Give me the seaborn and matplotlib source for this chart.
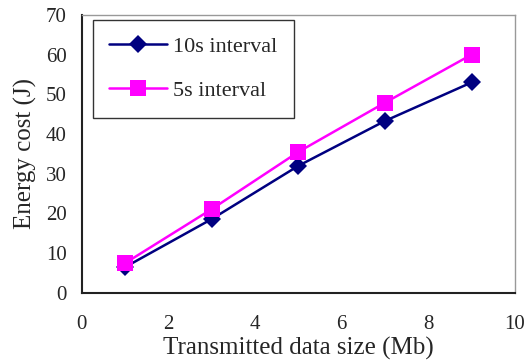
import pandas as pd
import matplotlib.pyplot as plt
import seaborn as sns

sizes = [1, 3, 5, 7, 9]
cost_10s = [6.5, 18.6, 32.0, 43.3, 53.0]
cost_5s = [7.5, 21.1, 35.5, 47.9, 60.0]
labels = ["10s interval", "5s interval"]

df = pd.DataFrame({
    "size": sizes * 2,
    "cost": cost_10s + cost_5s,
    "series": [labels[0]] * 5 + [labels[1]] * 5,
})

sns.set_style("white")
plt.rcParams["font.family"] = ["Liberation Serif"]

fig = plt.figure(figsize=(5.25, 3.62), dpi=100)
ax = fig.add_axes([0.156, 0.191, 0.825, 0.768])

sns.lineplot(
    data=df, x="size", y="cost", hue="series", style="series",
    palette={labels[0]: "#000080", labels[1]: "#FF00FF"},
    markers={labels[0]: "D", labels[1]: "s"},
    dashes=False, markersize=10, linewidth=1.8, markeredgewidth=0,
    ax=ax,
)
for line in ax.lines:
    if line.get_marker() == "s":
        line.set_markersize(11)
    else:
        line.set_markersize(9)

ax.set_xlim(0, 10)
ax.set_ylim(0, 70)
ax.set_xticks(range(0, 11, 2))
ax.set_yticks(range(0, 71, 10))
ax.tick_params(axis="both", direction="in", length=4, labelsize=15)
ax.tick_params(axis="x", pad=16)
ax.tick_params(axis="y", pad=11)
ax.set_xlabel("Transmitted data size (Mb)", fontsize=18, labelpad=2)
ax.set_ylabel("Energy cost (J)", fontsize=18, labelpad=6)

for side in ["left", "bottom"]:
    ax.spines[side].set_color("#222222")
    ax.spines[side].set_linewidth(1.5)
for side in ["top", "right"]:
    ax.spines[side].set_color("#999999")
    ax.spines[side].set_linewidth(1.0)

leg = ax.legend(
    loc="upper left", fontsize=16, frameon=True, fancybox=False,
    edgecolor="black", borderpad=0.75, labelspacing=1.05, handlelength=2.6,
    handletextpad=0.25, borderaxespad=0, bbox_to_anchor=(0.025, 0.982),
)
leg.get_frame().set_linewidth(1.0)

plt.savefig("out.png", dpi=100)
